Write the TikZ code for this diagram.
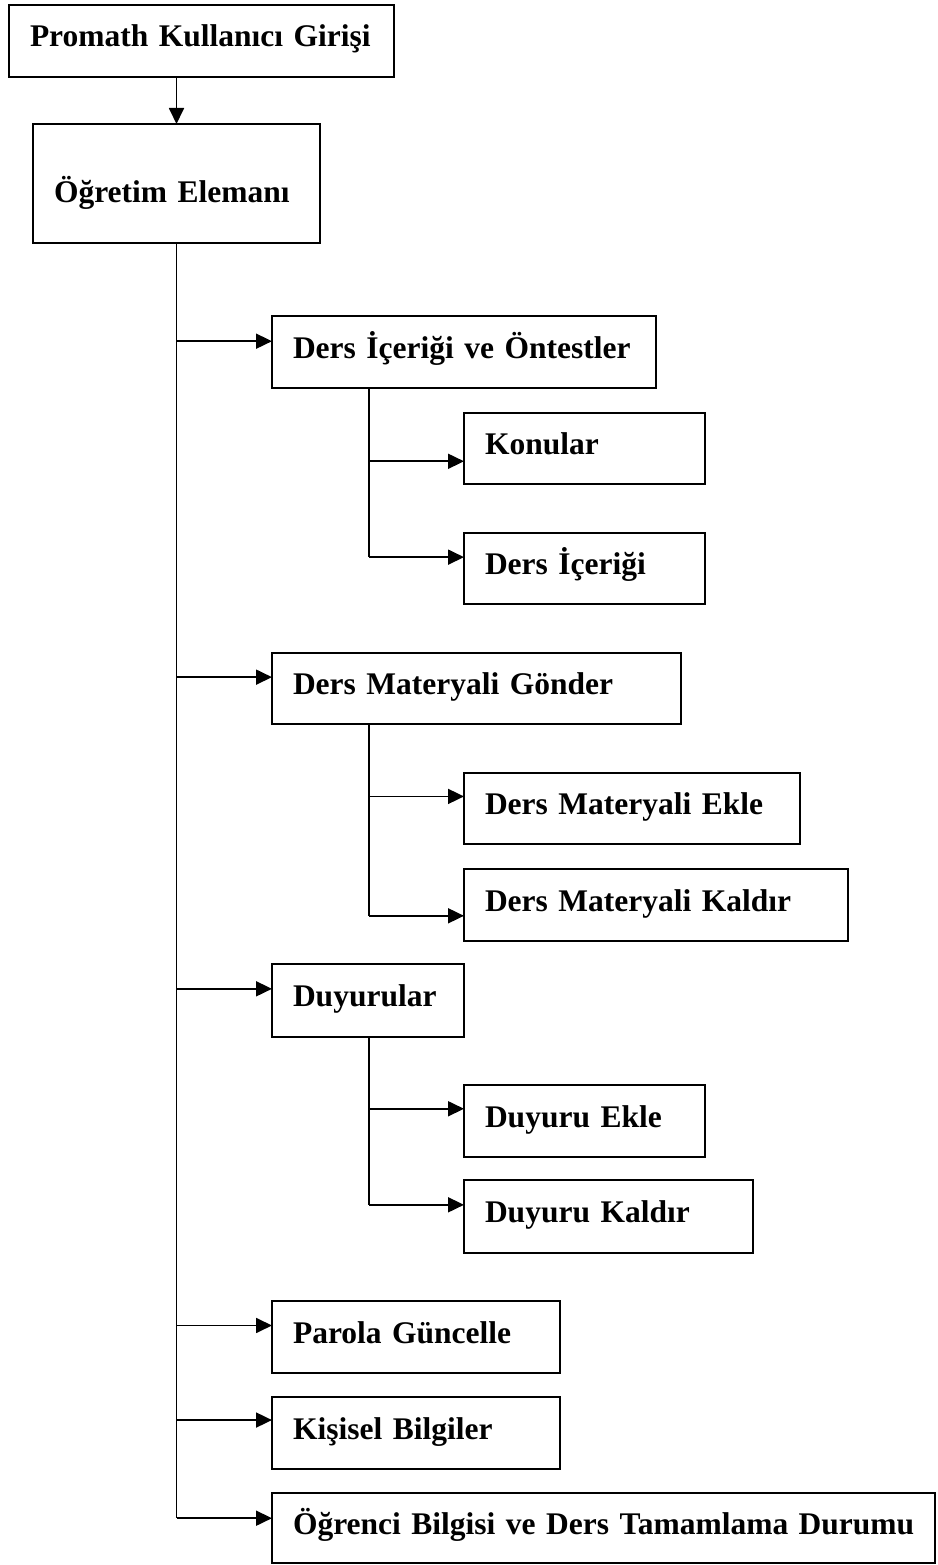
\documentclass[tikz,border=0pt]{standalone}
\usepackage{fontspec}
\setmainfont{Liberation Serif}
\usetikzlibrary{arrows.meta,calc}
\begin{document}
\begin{tikzpicture}[x=1pt,y=-1pt,
  box/.style={draw, line width=1.8pt, anchor=north west, inner xsep=21pt, inner ysep=0pt,
    outer sep=0pt, align=left, font=\fontsize{31.5}{38}\selectfont\bfseries,
    text height=23pt, text depth=11pt},
  ln/.style={line width=1.8pt},
  arr/.style={line width=1.8pt, -{Triangle[length=16pt,width=15pt]}}]
\useasboundingbox (0,0) rectangle (937,1565);
% boxes
\node[box, text width=343pt, minimum height=72pt] (b1) at (9,5) {Promath Kullanıcı Girişi};
\node[box, text width=245pt, minimum height=119pt, text height=45pt, text depth=6pt] (b2) at (33,124) {Öğretim Elemanı};
\node[box, text width=342pt, minimum height=72pt] (b3) at (272,316) {Ders İçeriği ve Öntestler};
\node[box, text width=199pt, minimum height=71pt] (b4) at (464,413) {Konular};
\node[box, text width=199pt, minimum height=71pt] (b5) at (464,533) {Ders İçeriği};
\node[box, text width=367pt, minimum height=71pt] (b6) at (272,653) {Ders Materyali Gönder};
\node[box, text width=294pt, minimum height=71pt] (b7) at (464,773) {Ders Materyali Ekle};
\node[box, text width=342pt, minimum height=72pt] (b8) at (464,869) {Ders Materyali Kaldır};
\node[box, text width=150pt, minimum height=73pt] (b9) at (272,964) {Duyurular};
\node[box, text width=199pt, minimum height=72pt] (b10) at (464,1085) {Duyuru Ekle};
\node[box, text width=247pt, minimum height=73pt] (b11) at (464,1180) {Duyuru Kaldır};
\node[box, text width=246pt, minimum height=72pt] (b12) at (272,1301) {Parola Güncelle};
\node[box, text width=246pt, minimum height=72pt] (b13) at (272,1397) {Kişisel Bilgiler};
\node[box, text width=621pt, minimum height=70pt] (b14) at (272,1493) {\mbox{Öğrenci Bilgisi ve Ders Tamamlama Durumu}};
% arrow targets
\coordinate (t3) at ($(b3.north west)!.35!(b3.south west)$);
\coordinate (t4) at ($(b4.north west)!.68!(b4.south west)$);
\coordinate (t5) at ($(b5.north west)!.34!(b5.south west)$);
\coordinate (t6) at ($(b6.north west)!.34!(b6.south west)$);
\coordinate (t7) at ($(b7.north west)!.33!(b7.south west)$);
\coordinate (t8) at ($(b8.north west)!.65!(b8.south west)$);
\coordinate (t9) at ($(b9.north west)!.34!(b9.south west)$);
\coordinate (t10) at ($(b10.north west)!.33!(b10.south west)$);
\coordinate (t11) at ($(b11.north west)!.34!(b11.south west)$);
\coordinate (t12) at ($(b12.north west)!.34!(b12.south west)$);
\coordinate (t13) at ($(b13.north west)!.32!(b13.south west)$);
\coordinate (t14) at ($(b14.north west)!.36!(b14.south west)$);
% sub-trunk origins
\coordinate (s3) at ([xshift=97pt]b3.south west);
\coordinate (s6) at ([xshift=97pt]b6.south west);
\coordinate (s9) at ([xshift=97pt]b9.south west);
% connectors
\draw[arr] (b2.north |- b1.south) -- (b2.north);
\draw[ln] (b2.south) -- (b2.south |- t14);
\foreach \t in {t3,t6,t9,t12,t13,t14} \draw[arr] (\t -| b2.south) -- (\t);
\draw[ln] (s3) -- (s3 |- t5);
\draw[arr] (t4 -| s3) -- (t4);
\draw[arr] (t5 -| s3) -- (t5);
\draw[ln] (s6) -- (s6 |- t8);
\draw[arr] (t7 -| s6) -- (t7);
\draw[arr] (t8 -| s6) -- (t8);
\draw[ln] (s9) -- (s9 |- t11);
\draw[arr] (t10 -| s9) -- (t10);
\draw[arr] (t11 -| s9) -- (t11);
\end{tikzpicture}
\end{document}
